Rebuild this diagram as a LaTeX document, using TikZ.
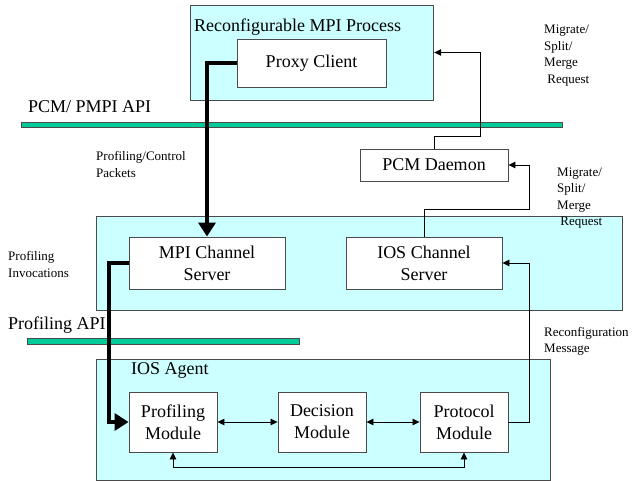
\documentclass[tikz,border=0pt]{standalone}
\usepackage{fontspec}
\setmainfont{Liberation Serif}
\usetikzlibrary{arrows.meta}
\definecolor{cyanfill}{HTML}{CCFFFF}
\definecolor{barfill}{HTML}{00CC99}
\definecolor{edgegray}{HTML}{4A4A4A}
\tikzset{
  region/.style={draw=edgegray, line width=0.9pt, fill=cyanfill, inner sep=0pt},
  unit/.style={draw=edgegray, line width=0.9pt, fill=white, align=center, inner sep=0pt,
     font=\fontsize{18}{22}\selectfont},
  apibar/.style={draw=edgegray, line width=0.8pt, fill=barfill},
  big/.style={font=\fontsize{18}{22}\selectfont, inner sep=0pt, anchor=west},
  small/.style={font=\fontsize{13}{16.5}\selectfont, inner sep=0pt, anchor=west, align=left},
  thin/.style={draw=black, line width=0.8pt, -{Triangle[length=7pt,width=6.5pt]}},
  thinboth/.style={draw=black, line width=0.8pt, {Triangle[length=7pt,width=6.5pt]}-{Triangle[length=7pt,width=6.5pt]}},
  thick/.style={draw=black, line width=4pt, -{Triangle[length=14pt,width=17pt]}}
}
\begin{document}
\begin{tikzpicture}[x=1pt,y=-1pt]
\useasboundingbox (0,0) rectangle (633,481);
% regions
\node[region, minimum width=243.5pt, minimum height=95pt] (proc) at (312,52.5) {};
\node[region, minimum width=526pt, minimum height=94pt] (mid) at (359,263) {};
\node[region, minimum width=454pt, minimum height=121pt] (agent) at (323,419.5) {};
% API bars
\path[apibar] (21,122) rectangle (562,127);
\path[apibar] (27,338) rectangle (299,344);
% units
\node[unit, minimum width=149pt, minimum height=48pt] (proxy) at (311.5,63) {Proxy Client};
\node[unit, minimum width=148pt, minimum height=32pt] (pcm) at (434,165) {PCM Daemon};
\node[unit, minimum width=156pt, minimum height=52pt] (mpi) at (207,263) {MPI Channel\\Server};
\node[unit, minimum width=156pt, minimum height=52pt] (ios) at (424,263) {IOS Channel\\Server};
\node[unit, minimum width=88pt, minimum height=60pt] (prof) at (173,422) {Profiling\\Module};
\node[unit, minimum width=88pt, minimum height=60pt] (dec) at (322,422) {Decision\\Module};
\node[unit, minimum width=88pt, minimum height=60pt] (prot) at (464,422) {Protocol\\Module};
% labels
\node[big] (proctitle) at (194,27) {Reconfigurable MPI Process};
\node[big] (pcmapi) at (28,107) {PCM/ PMPI API};
\node[big] (profapi) at (8,325) {Profiling API};
\node[big] (agenttitle) at (131,370) {IOS Agent};
\node[small] (pcp) at (96,164.5) {Profiling/Control\\Packets};
\node[small] (mig1) at (544,55.5) {Migrate/\\Split/\\Merge\\\ Request};
\node[small] (mig2) at (557,198) {Migrate/\\Split/\\Merge\\\ Request};
\node[small] (pinv) at (8,264.5) {Profiling\\Invocations};
\node[small] (reconf) at (544,341.5) {Reconfiguration\\Message};
% connectors
\coordinate (c1) at (480,136);
\coordinate (c2) at (529,209);
\coordinate (c3) at (529,263);
\draw[thin] (pcm.north) |- (c1) |- (proc.east);
\draw[thin] (ios.north) |- (c2) |- (pcm.east);
\draw[thin] (prot.east) -| (c3) -- (ios.east);
\draw[thinboth] (prof.east) -- (dec.west);
\draw[thinboth] (dec.east) -- (prot.west);
\draw[thinboth] (prof.south) -- ++(0,15) -| (prot.south);
\coordinate (k1) at (207,63);
\coordinate (k2) at (109,263);
\draw[thick] (proxy.west) -- (k1) -- (mpi.north);
\draw[thick] (mpi.west) -- (k2) |- (prof.west);
\end{tikzpicture}
\end{document}
